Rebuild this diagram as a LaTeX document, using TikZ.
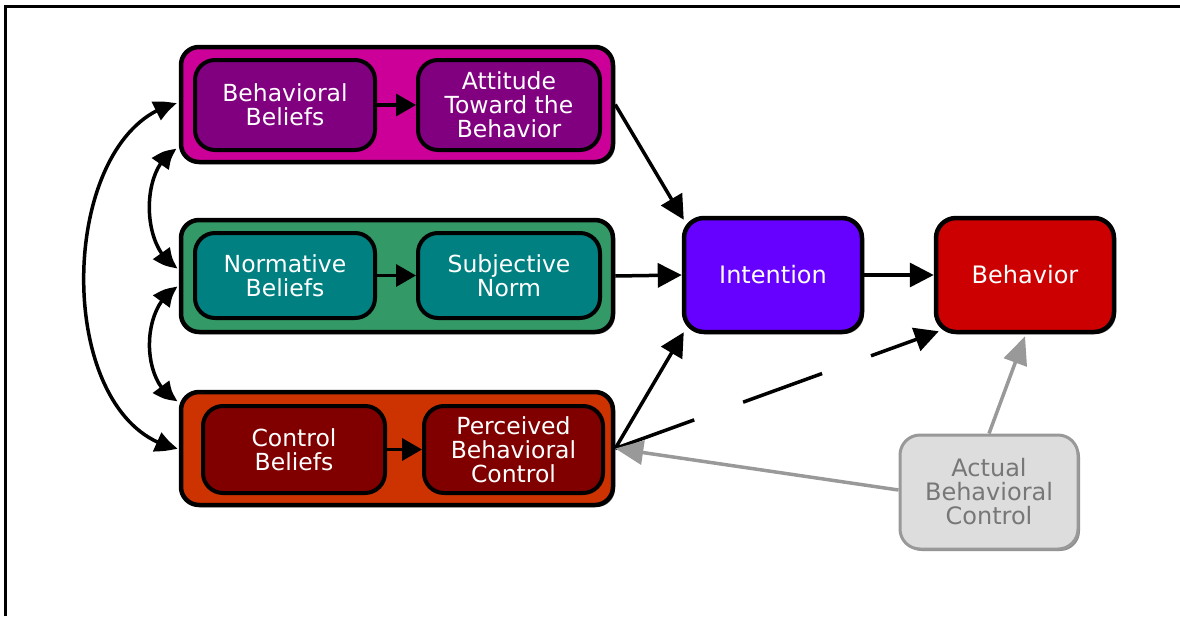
\documentclass[tikz,border=0pt]{standalone}
\usepackage{fontspec}
\setmainfont{DejaVu Sans}
\usetikzlibrary{arrows.meta,calc,shadows,bending}
\definecolor{magout}{HTML}{CC0099}
\definecolor{magin}{HTML}{800080}
\definecolor{grnout}{HTML}{339966}
\definecolor{grnin}{HTML}{008080}
\definecolor{orgout}{HTML}{CC3300}
\definecolor{orgin}{HTML}{800000}
\definecolor{intcol}{HTML}{6600FF}
\definecolor{behcol}{HTML}{CC0000}
\definecolor{abcfill}{HTML}{DDDDDD}
\definecolor{abcline}{HTML}{999999}
\definecolor{abctext}{HTML}{777777}
\begin{document}
\begin{tikzpicture}[x=1pt,y=-1pt,
  shd/.style={drop shadow={shadow xshift=2pt,shadow yshift=-2pt,fill=black!45,opacity=1}},
  outerbox/.style={draw=black,line width=4.5pt,rounded corners=18pt,shd},
  innerbox/.style={draw=black,line width=4pt,rounded corners=20pt,text=white,align=center,
     font=\fontsize{23.5}{24}\selectfont,inner sep=0pt,minimum height=88pt},
  mainbox/.style={draw=black,line width=4.5pt,rounded corners=20pt,text=white,align=center,
     font=\fontsize{24}{24}\selectfont,minimum width=178pt,minimum height=114pt,shd},
  arr/.style={line width=3.5pt,-{Triangle[length=24pt,width=24pt]}},
  iarr/.style={line width=3.5pt,-{Triangle[length=20pt,width=22pt]}},
  darr/.style={line width=3.5pt,{Triangle[length=22pt,width=20pt,bend]}-{Triangle[length=22pt,width=20pt,bend]}},
  garr/.style={line width=3.5pt,draw=abcline,-{Triangle[length=28pt,width=24pt]},abcline},
]
\useasboundingbox (0,0) rectangle (1180,616);
\fill[white] (0,0) rectangle (1180,616);
\draw[line width=3pt] (5,616) -- (5,6) -- (1180,6);

% group boxes
\node[outerbox,fill=magout,minimum width=432pt,minimum height=115pt] (mag) at (397,104.5) {};
\node[outerbox,fill=grnout,minimum width=432pt,minimum height=112pt] (grn) at (397,276) {};
\node[outerbox,fill=orgout,minimum width=432pt,minimum height=113pt] (org) at (397,448.5) {};

% inner boxes
\node[innerbox,fill=magin,minimum width=180pt,minimum height=90pt] (bb) at (285,105) {Behavioral\\Beliefs};
\node[innerbox,fill=magin,minimum width=182pt,minimum height=90pt] (att) at (509,105) {Attitude\\Toward the\\Behavior};
\node[innerbox,fill=grnin,minimum width=180pt,minimum height=85pt] (nb) at (285,275.5) {Normative\\Beliefs};
\node[innerbox,fill=grnin,minimum width=182pt,minimum height=85pt] (sn) at (509,275.5) {Subjective\\Norm};
\node[innerbox,fill=orgin,minimum width=182pt,minimum height=87pt] (cb) at (294,449.5) {Control\\Beliefs};
\node[innerbox,fill=orgin,minimum width=179pt,minimum height=87pt] (pbc) at (513.5,449.5) {Perceived\\Behavioral\\Control};

% main boxes
\node[mainbox,fill=intcol] (int) at (773,275) {Intention};
\node[mainbox,fill=behcol] (beh) at (1025,275) {Behavior};
\node[mainbox,fill=abcfill,draw=abcline,line width=3pt,text=abctext,drop shadow={opacity=0}] (abc) at (989,492) {Actual\\Behavioral\\Control};

% inner arrows
\draw[iarr] (bb.east) -- (att.west);
\draw[iarr] (nb.east) -- (sn.west);
\draw[iarr] (cb.east) -- (pbc.west);

% to intention
\draw[arr] (mag.east) -- ($(int.north west)+(2,4)$);
\draw[arr] (grn.east) -- (int.west);
\draw[arr] (org.east) -- ($(int.south west)+(2,-2)$);
\draw[arr] (int.east) -- (beh.west);

% dashed PBC -> behavior
\draw[arr,dash pattern=on 84pt off 52pt] (org.east) -- ($(beh.south west)+(5,-3)$);

% actual behavioral control
\draw[garr] ($(abc.west)+(0,-2)$) -- (org.east);
\draw[garr] (abc.north) -- ($(beh.south)+(0,2)$);

% left correlation arcs
\coordinate (m1) at ($(mag.west)+(-2,-1)$);
\coordinate (m2) at ($(mag.south west)+(-2,-15)$);
\coordinate (g1) at ($(grn.west)+(-1,-8)$);
\coordinate (g2) at ($(grn.west)+(-1,11)$);
\coordinate (o1) at ($(org.north west)+(-1,11)$);
\coordinate (o2) at ($(org.west)+(-1,0)$);
\draw[darr] (o2) .. controls (50,425) and (55,130) .. (m1);
\draw[darr] (m2) .. controls (140,165) and (140,250) .. (g1);
\draw[darr] (g2) .. controls (140,305) and (140,385) .. (o1);
\end{tikzpicture}
\end{document}
